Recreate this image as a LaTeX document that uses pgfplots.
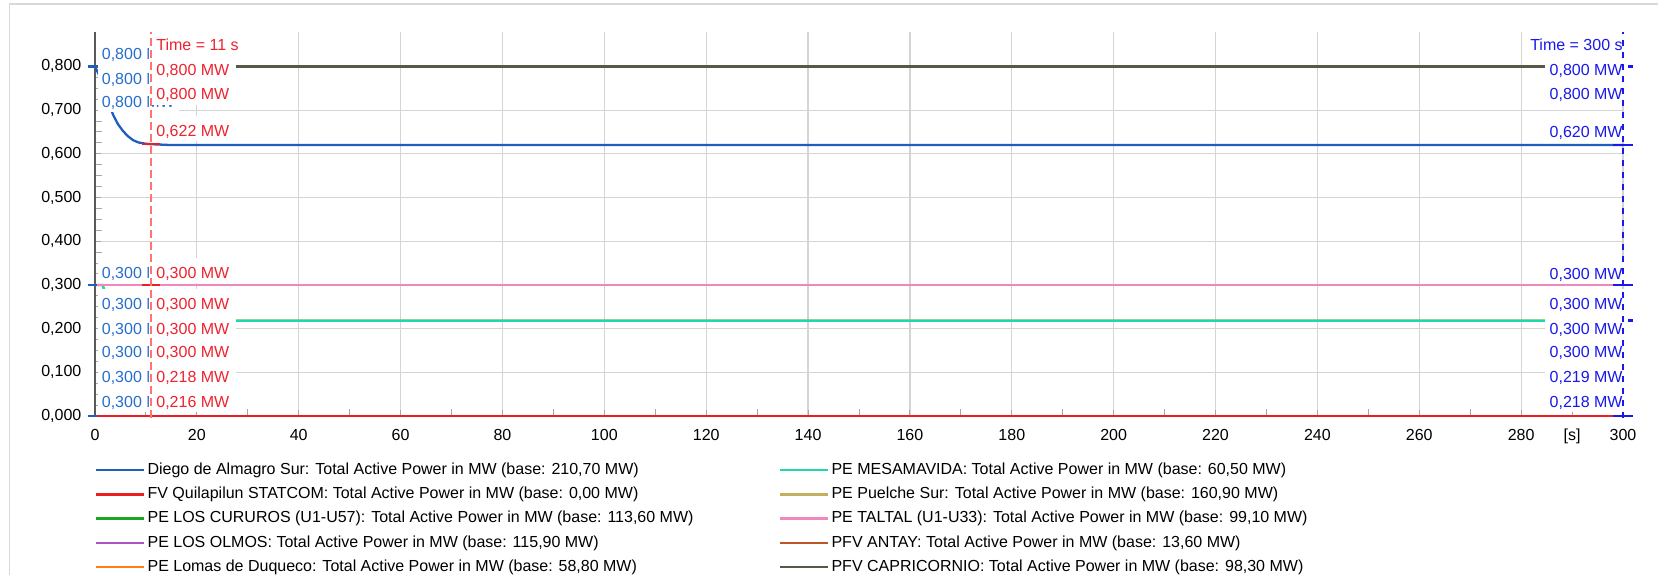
\documentclass[border=0pt]{standalone}
\usepackage{fontspec}
\setmainfont{Liberation Sans}
\usepackage{pgfplots}
\pgfplotsset{compat=1.18}

\definecolor{cDiego}{RGB}{30,95,190}
\definecolor{cQuila}{RGB}{235,30,35}
\definecolor{cCuru}{RGB}{30,165,30}
\definecolor{cOlmos}{RGB}{170,85,195}
\definecolor{cDuque}{RGB}{255,125,20}
\definecolor{cMesa}{RGB}{30,215,170}
\definecolor{cPuel}{RGB}{195,175,95}
\definecolor{cTaltal}{RGB}{240,135,190}
\definecolor{cAntay}{RGB}{190,85,40}
\definecolor{cCapri}{RGB}{88,88,72}
\definecolor{labBlue}{RGB}{38,110,205}
\definecolor{labRed}{RGB}{238,35,45}
\definecolor{labBlueR}{RGB}{25,25,235}

\newcommand\fs{\fontsize{8}{9.6}\selectfont}

\tikzset{
  lab/.style={fill=white, inner ysep=0pt, minimum height=12.5pt, text height=8pt, text depth=0.25pt, font=\fs},
  lblB/.style={lab, inner xsep=2pt, anchor=west, text=labBlue},
  lblR/.style={lab, inner xsep=3.5pt, anchor=west, text=labRed},
  lblE/.style={lab, inner xsep=2.5pt, anchor=east, text=labBlueR},
}

\pgfplotsset{
  frame/.style={
    at={(47.5pt,-208pt)}, anchor=south west,
    scale only axis, width=764pt, height=192pt,
  },
  leg/.style={
    legend cell align=left,
    legend image code/.code={\draw[##1, line width=1.3pt] (0pt,0pt) -- (24pt,0pt);},
    legend style={draw=none, fill=none, inner sep=0pt, outer sep=0pt,
      anchor=north west, font=\fs, row sep=2.35pt,
      nodes={inner sep=1pt, text height=6pt, text depth=1.8pt},
      every odd column/.append style={column sep=3pt}},
  },
  ser/.style={line width=1.15pt},
}

\begin{document}
\begin{tikzpicture}[font=\fs]
\useasboundingbox (0,0) rectangle (829pt,-287.5pt);
\draw[black!15, line width=0.6pt] (4.7pt,-287.5pt) -- (4.7pt,-2pt) -- (829pt,-2pt);

\begin{axis}[
  frame, leg,
  legend style={at={(0,-0.1149)}},
  xmin=0, xmax=300, ymin=0, ymax=0.8787,
  clip=false,
  axis x line=bottom, axis y line=left,
  axis line style={-, draw=black!65, line width=0.8pt},
  xtick={0,20,...,300},
  ytick={0,0.1,0.2,0.3,0.4,0.5,0.6,0.7,0.8},
  yticklabels={{0,000},{0,100},{0,200},{0,300},{0,400},{0,500},{0,600},{0,700},{0,800}},
  extra x ticks={290}, extra x tick labels={{[s]}},
  extra x tick style={grid=none, major tick length=0pt},
  minor x tick num=1, minor y tick num=3,
  tick align=inside,
  major tick length=3pt, minor tick length=3.3pt,
  tick style={draw=black!35, line width=0.5pt},
  grid=major,
  major grid style={draw=black!17, line width=0.6pt},
  tick label style={font=\fs, /pgf/number format/assume math mode=true},
  yticklabel style={xshift=-3.3pt},
  xticklabel style={yshift=-3.1pt},
]
% series
\addplot[cDiego, ser] coordinates {
  (0,0.800) (1,0.775) (2,0.740) (3,0.706) (3.6,0.688) (4.5,0.668) (5.5,0.652)
  (6.5,0.640) (7.5,0.631) (8.5,0.626) (10,0.623) (11,0.622) (15,0.620) (300,0.620)};
\addlegendentry{Diego de Almagro Sur: Total Active Power in MW (base: 210,70 MW)}
\addplot[cQuila, ser] coordinates {(0,0) (300,0)};
\addlegendentry{FV Quilapilun STATCOM: Total Active Power in MW (base: 0,00 MW)}
\addplot[cCuru, ser] coordinates {(0,0.3) (300,0.3)};
\addlegendentry{PE LOS CURUROS (U1-U57): Total Active Power in MW (base: 113,60 MW)}
\addplot[cOlmos, ser] coordinates {(0,0.3) (300,0.3)};
\addlegendentry{PE LOS OLMOS: Total Active Power in MW (base: 115,90 MW)}
\addplot[cDuque, ser] coordinates {(0,0.3) (300,0.3)};
\addlegendentry{PE Lomas de Duqueco: Total Active Power in MW (base: 58,80 MW)}
\addplot[cPuel, ser, forget plot] coordinates {
  (0,0.300) (1.5,0.300) (2.5,0.262) (3.5,0.236) (5,0.224) (8,0.2195) (11,0.2185) (300,0.2185)};
\addplot[cMesa, ser, forget plot] coordinates {
  (0,0.300) (1.5,0.300) (2.3,0.270) (3.3,0.240) (5,0.225) (8,0.218) (11,0.218) (300,0.218)};
\addplot[cTaltal, ser, forget plot] coordinates {(0,0.3) (300,0.3)};
\addplot[cAntay, ser, forget plot] coordinates {(0,0.8) (300,0.8)};
\addplot[cCapri, ser, forget plot] coordinates {(0,0.8) (300,0.8)};

% cursor markers
\addplot[cDiego, line width=1.2pt, forget plot] coordinates {(-1.4,0.8) (0.4,0.8)};
\addplot[cDiego, line width=1.2pt, forget plot] coordinates {(-1.4,0.3) (0.4,0.3)};
\addplot[cDiego, line width=1.2pt, forget plot] coordinates {(-1.4,0) (0.4,0)};
\addplot[cQuila, line width=1.2pt, forget plot] coordinates {(9.2,0.8) (12.8,0.8)};
\addplot[cQuila, line width=1.2pt, forget plot] coordinates {(9.2,0.622) (12.8,0.622)};
\addplot[cQuila, line width=1.2pt, forget plot] coordinates {(9.2,0.3) (12.8,0.3)};
\addplot[cQuila, line width=1.2pt, forget plot] coordinates {(9.2,0.216) (12.8,0.216)};
\addplot[cQuila, line width=1.2pt, forget plot] coordinates {(9.2,0) (12.8,0)};
\addplot[labBlueR, line width=1.2pt, forget plot] coordinates {(298,0.8) (302,0.8)};
\addplot[labBlueR, line width=1.2pt, forget plot] coordinates {(298,0.62) (302,0.62)};
\addplot[labBlueR, line width=1.2pt, forget plot] coordinates {(298,0.3) (302,0.3)};
\addplot[labBlueR, line width=1.2pt, forget plot] coordinates {(298,0.219) (302,0.219)};
\addplot[labBlueR, line width=1.2pt, forget plot] coordinates {(298,0) (302,0)};

% cursor value labels at t = 0 (blue)
\node[lblB] at (axis cs:0.49,0.8346) {0,800 MW};
\node[lblB] at (axis cs:0.49,0.7773) {0,800 MW};
\node[lblB] at (axis cs:0.49,0.7238) {0,800 MW};
\node[lblB] at (axis cs:0.49,0.3325) {0,300 MW};
\node[lblB] at (axis cs:0.49,0.2625) {0,300 MW};
\node[lblB] at (axis cs:0.49,0.2053) {0,300 MW};
\node[lblB] at (axis cs:0.49,0.1517) {0,300 MW};
\node[lblB] at (axis cs:0.49,0.0945) {0,300 MW};
\node[lblB] at (axis cs:0.49,0.0373) {0,300 MW};
% cursor at t = 11 s (red)
\node[lblR] at (axis cs:10.6,0.8535) {Time = 11 s};
\node[lblR] at (axis cs:10.6,0.7979) {0,800 MW};
\node[lblR] at (axis cs:10.6,0.7414) {0,800 MW};
\node[lblR] at (axis cs:10.6,0.6568) {0,622 MW};
\node[lblR] at (axis cs:10.6,0.3325) {0,300 MW};
\node[lblR] at (axis cs:10.6,0.2625) {0,300 MW};
\node[lblR] at (axis cs:10.6,0.2053) {0,300 MW};
\node[lblR] at (axis cs:10.6,0.1517) {0,300 MW};
\node[lblR] at (axis cs:10.6,0.0945) {0,218 MW};
\node[lblR] at (axis cs:10.6,0.0373) {0,216 MW};
% cursor at t = 300 s (blue, right)
\node[lblE] at (axis cs:300.98,0.8535) {Time = 300 s};
\node[lblE] at (axis cs:300.98,0.7979) {0,800 MW};
\node[lblE] at (axis cs:300.98,0.7430) {0,800 MW};
\node[lblE] at (axis cs:300.98,0.6551) {0,620 MW};
\node[lblE] at (axis cs:300.98,0.3311) {0,300 MW};
\node[lblE] at (axis cs:300.98,0.2625) {0,300 MW};
\node[lblE] at (axis cs:300.98,0.2053) {0,300 MW};
\node[lblE] at (axis cs:300.98,0.1517) {0,300 MW};
\node[lblE] at (axis cs:300.98,0.0945) {0,219 MW};
\node[lblE] at (axis cs:300.98,0.0373) {0,218 MW};

% cursor lines
\addplot[red!55, line width=0.6pt, dash pattern=on 4pt off 2pt, forget plot] coordinates {(11,-0.005) (11,0.8787)};
\addplot[labBlueR, line width=0.6pt, dash pattern=on 3pt off 3pt, forget plot] coordinates {(300,-0.005) (300,0.8787)};
\end{axis}

\begin{axis}[
  frame, leg, hide axis,
  xmin=0, xmax=1, ymin=0, ymax=1,
  legend style={at={(0.4476,-0.1149)}},
]
\addlegendimage{cMesa}
\addlegendentry{PE MESAMAVIDA: Total Active Power in MW (base: 60,50 MW)}
\addlegendimage{cPuel}
\addlegendentry{PE Puelche Sur: Total Active Power in MW (base: 160,90 MW)}
\addlegendimage{cTaltal}
\addlegendentry{PE TALTAL (U1-U33): Total Active Power in MW (base: 99,10 MW)}
\addlegendimage{cAntay}
\addlegendentry{PFV ANTAY: Total Active Power in MW (base: 13,60 MW)}
\addlegendimage{cCapri}
\addlegendentry{PFV CAPRICORNIO: Total Active Power in MW (base: 98,30 MW)}
\end{axis}
\end{tikzpicture}
\end{document}
